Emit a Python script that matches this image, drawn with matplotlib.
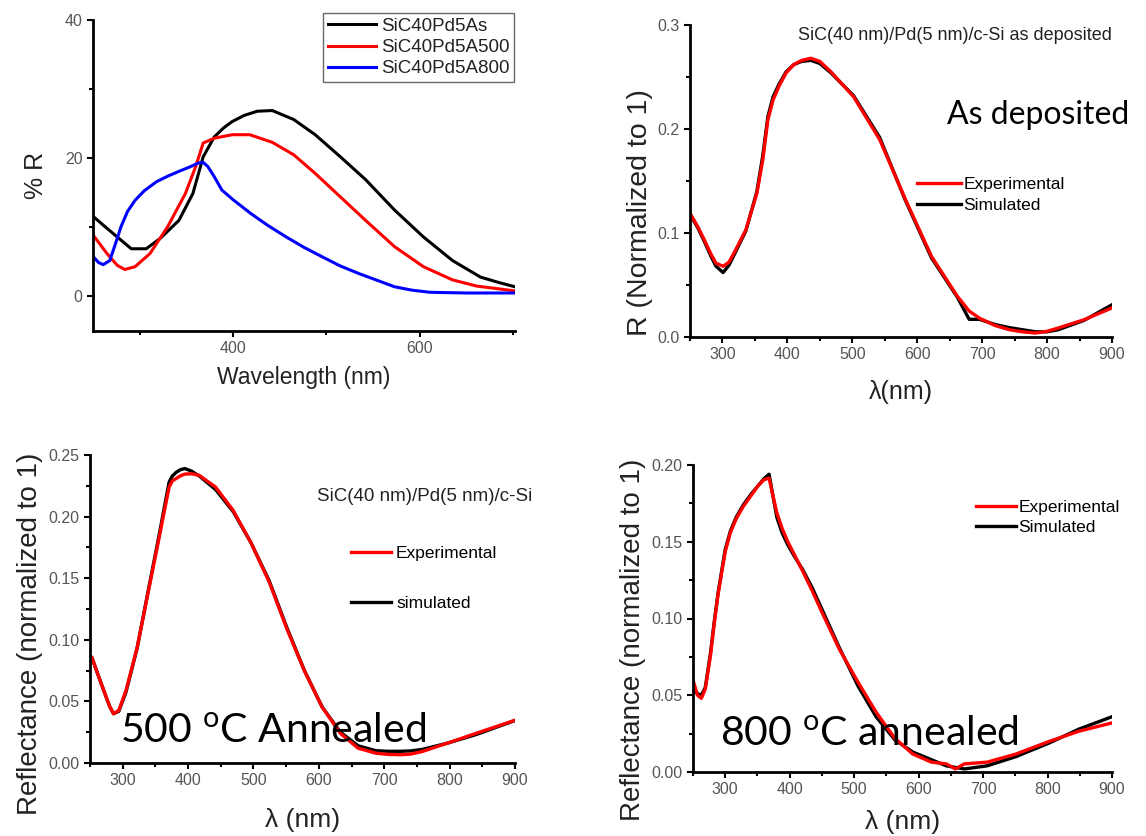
import numpy as np
import matplotlib
matplotlib.use("Agg")
import matplotlib.pyplot as plt
from matplotlib.ticker import MultipleLocator, FormatStrFormatter

plt.rcParams['font.family'] = ['Liberation Sans', 'DejaVu Sans']
plt.rcParams['mathtext.fontset'] = 'custom'
plt.rcParams['mathtext.rm'] = 'Lato'

# ---- panel 1: % R of the three samples ----
as_wl = [250, 262, 276, 291, 307, 322, 342, 357, 368, 380, 390, 399, 412, 426, 442,
         465, 488, 515, 542, 573, 604, 635, 665, 685, 702]
as_r = [11.6, 10.2, 8.6, 6.9, 6.9, 8.4, 11.0, 14.9, 20.2, 23.1, 24.4, 25.3, 26.2,
        26.8, 26.9, 25.6, 23.4, 20.2, 16.9, 12.5, 8.6, 5.2, 2.8, 2.0, 1.4]
a500_wl = [250, 265, 276, 284, 295, 311, 330, 349, 360, 368, 380, 399, 418, 442,
           465, 488, 515, 542, 573, 604, 635, 661, 702]
a500_r = [8.9, 6.2, 4.5, 3.9, 4.3, 6.2, 10.1, 14.9, 18.8, 22.2, 22.9, 23.4, 23.4,
          22.3, 20.5, 17.8, 14.4, 11.0, 7.2, 4.3, 2.4, 1.5, 0.8]
a800_wl = [250, 256, 261, 268, 274, 280, 287, 295, 305, 318, 330, 342, 353, 363,
           368, 373, 380, 388, 400, 419, 437, 457, 476, 496, 515, 535, 555, 573, 592,
           611, 650, 702]
a800_r = [5.8, 4.9, 4.6, 5.2, 7.6, 10.1, 12.3, 13.9, 15.3, 16.6, 17.4, 18.1, 18.7,
          19.3, 19.4, 18.8, 17.3, 15.4, 14.0, 12.0, 10.3, 8.6, 7.1, 5.7, 4.4, 3.3, 2.3,
          1.4, 0.9, 0.6, 0.5, 0.5]

# ---- panel 2: as deposited ----
p2_wl = [250, 262, 272, 282, 290, 301, 310, 318, 336, 353, 362, 370, 378, 387, 398,
         410, 422, 436, 450, 467, 502, 542, 582, 622, 662, 680, 696, 720, 742, 762,
         782, 800, 817, 857, 900]
p2_exp = [0.119, 0.106, 0.0935, 0.080, 0.071, 0.068, 0.072, 0.081, 0.103, 0.138,
          0.170, 0.209, 0.228, 0.241, 0.254, 0.262, 0.266, 0.268, 0.265, 0.255, 0.231,
          0.190, 0.132, 0.0775, 0.039, 0.025, 0.018, 0.011, 0.007, 0.005, 0.0038,
          0.0055, 0.0086, 0.0166, 0.028]
p2_sim = [0.118, 0.105, 0.092, 0.078, 0.068, 0.062, 0.069, 0.079, 0.102, 0.140,
          0.174, 0.212, 0.231, 0.243, 0.255, 0.262, 0.265, 0.266, 0.263, 0.254, 0.232,
          0.192, 0.131, 0.076, 0.038, 0.017, 0.017, 0.012, 0.009, 0.007, 0.005,
          0.005, 0.007, 0.016, 0.031]

# ---- panel 3: 500 C annealed ----
p3_wl = [253, 262, 273, 280, 286, 294, 305, 322, 338, 355, 371, 376, 382, 388, 395,
         405, 417, 442, 469, 496, 524, 551, 578, 605, 633, 660, 687, 705, 725, 740,
         758, 796, 840, 900]
p3_exp = [0.0854, 0.072, 0.056, 0.046, 0.040, 0.0427, 0.0587, 0.0934, 0.136, 0.181,
          0.224, 0.229, 0.231, 0.233, 0.2345, 0.2348, 0.2335, 0.224, 0.205, 0.179,
          0.147, 0.109, 0.0747, 0.0454, 0.024, 0.012, 0.008, 0.007, 0.0067, 0.0072,
          0.0093, 0.016, 0.024, 0.0347]
p3_sim = [0.0854, 0.072, 0.056, 0.046, 0.040, 0.0420, 0.0575, 0.0930, 0.137, 0.183,
          0.228, 0.233, 0.236, 0.238, 0.239, 0.237, 0.233, 0.222, 0.204, 0.179,
          0.148, 0.110, 0.0750, 0.0455, 0.025, 0.014, 0.010, 0.0095, 0.0095, 0.0098,
          0.011, 0.016, 0.023, 0.0345]

# ---- panel 4: 800 C annealed ----
p4_wl = [251, 257, 263, 269, 277, 283, 289, 300, 308, 317, 328, 340, 350, 360, 368,
         374, 380, 388, 397, 408, 420, 435, 449, 477, 506, 534, 563, 591, 620, 643,
         657, 671, 706, 751, 803, 849, 900]
p4_exp = [0.0585, 0.050, 0.048, 0.054, 0.0755, 0.097, 0.116, 0.1436, 0.156, 0.165,
          0.173, 0.180, 0.186, 0.1904, 0.1915, 0.180, 0.169, 0.159, 0.150, 0.141,
          0.131, 0.118, 0.105, 0.080, 0.0585, 0.039, 0.022, 0.0117, 0.0064, 0.0053,
          0.002, 0.0053, 0.0064, 0.0117, 0.020, 0.0266, 0.032]
p4_sim = [0.053, 0.051, 0.050, 0.055, 0.077, 0.098, 0.117, 0.145, 0.157, 0.166,
          0.174, 0.181, 0.186, 0.191, 0.194, 0.180, 0.166, 0.156, 0.148, 0.140,
          0.132, 0.120, 0.107, 0.081, 0.056, 0.036, 0.021, 0.013, 0.008, 0.004,
          0.003, 0.002, 0.004, 0.010, 0.019, 0.028, 0.036]

fig = plt.figure(figsize=(11.46, 8.36), dpi=100)
W, H = 1146, 836


def make_ax(l, t, r, b):
    return fig.add_axes([l / W, 1 - b / H, (r - l) / W, (b - t) / H])


def style(ax):
    for s in ['top', 'right']:
        ax.spines[s].set_visible(False)
    for s in ['left', 'bottom']:
        ax.spines[s].set_linewidth(2.0)
    ax.tick_params(which='both', direction='out', width=1.5, colors='black',
                   labelcolor='#555555', labelsize=11.5)
    ax.tick_params(which='major', length=4)
    ax.tick_params(which='minor', length=3)


big = dict(family=['Lato', 'DejaVu Sans'], color='black')
lab = dict(color='#222222')

# panel 1
ax1 = make_ax(93, 20, 515, 331)
ax1.plot(as_wl, as_r, color='black', lw=2.2, label='SiC40Pd5As')
ax1.plot(a500_wl, a500_r, color='red', lw=2.2, label='SiC40Pd5A500')
ax1.plot(a800_wl, a800_r, color='blue', lw=2.2, label='SiC40Pd5A800')
ax1.set_xlim(250, 702)
ax1.set_ylim(-5, 40)
ax1.xaxis.set_major_locator(MultipleLocator(200))
ax1.xaxis.set_minor_locator(MultipleLocator(100))
ax1.yaxis.set_major_locator(MultipleLocator(20))
ax1.yaxis.set_minor_locator(MultipleLocator(10))
style(ax1)
ax1.set_xlabel('Wavelength (nm)', fontsize=16.5, labelpad=7, **lab)
ax1.set_ylabel('% R', fontsize=18, labelpad=12, **lab)
leg = ax1.legend(loc='upper right', bbox_to_anchor=(0.998, 1.022), fontsize=13.5,
                 frameon=True, fancybox=False, edgecolor='#444444',
                 handlelength=2.6, handletextpad=0.25, borderpad=0.25,
                 labelspacing=0.22, borderaxespad=0.0)
leg.get_frame().set_linewidth(1.0)
for t in leg.get_texts():
    t.set_color('#222222')

# panel 2
ax2 = make_ax(690, 25, 1112, 337)
ax2.plot(p2_wl, p2_sim, color='black', lw=2.4, label='Simulated')
ax2.plot(p2_wl, p2_exp, color='red', lw=2.4, label='Experimental')
ax2.set_xlim(250, 900)
ax2.set_ylim(0, 0.3)
ax2.xaxis.set_major_locator(MultipleLocator(100))
ax2.xaxis.set_minor_locator(MultipleLocator(50))
ax2.yaxis.set_major_locator(MultipleLocator(0.1))
ax2.yaxis.set_minor_locator(MultipleLocator(0.05))
style(ax2)
ax2.set_xlabel('λ(nm)', fontsize=18, labelpad=13, **lab)
ax2.set_ylabel('R (Normalized to 1)', fontsize=20.5, labelpad=3, **lab)
ax2.yaxis.label.set_y(0.40)
ax2.text(0.257, 0.967, 'SiC(40 nm)/Pd(5 nm)/c-Si as deposited', transform=ax2.transAxes,
         fontsize=13, color='#222222', va='center', ha='left')
ax2.text(0.608, 0.71, 'As deposited', transform=ax2.transAxes, fontsize=23,
         va='center', ha='left', **big)
h, l = ax2.get_legend_handles_labels()
ax2.legend(h[::-1], l[::-1], loc='center left', bbox_to_anchor=(0.539, 0.455),
           frameon=False, fontsize=12.5, handlelength=2.5, handletextpad=0.15,
           labelspacing=0.3, borderaxespad=0.0, borderpad=0.0)

# panel 3
ax3 = make_ax(90, 455, 515, 763)
ax3.plot(p3_wl, p3_sim, color='black', lw=2.4, label='simulated')
ax3.plot(p3_wl, p3_exp, color='red', lw=2.4, label='Experimental')
ax3.set_xlim(250, 900)
ax3.set_ylim(0, 0.25)
ax3.xaxis.set_major_locator(MultipleLocator(100))
ax3.xaxis.set_minor_locator(MultipleLocator(50))
ax3.yaxis.set_major_locator(MultipleLocator(0.05))
ax3.yaxis.set_minor_locator(MultipleLocator(0.025))
ax3.yaxis.set_major_formatter(FormatStrFormatter('%.2f'))
style(ax3)
ax3.set_xlabel('λ (nm)', fontsize=19, labelpad=14, **lab)
ax3.set_ylabel('Reflectance (normalized to 1)', fontsize=20, labelpad=4, **lab)
ax3.yaxis.label.set_y(0.42)
ax3.text(0.535, 0.865, 'SiC(40 nm)/Pd(5 nm)/c-Si', transform=ax3.transAxes,
         fontsize=13.5, color='#222222', va='center', ha='left')
ax3.text(0.07, 0.105, '500 $\\mathregular{^{o}}$C Annealed', transform=ax3.transAxes,
         fontsize=29.5, va='center', ha='left', **big)
h, l = ax3.get_legend_handles_labels()
ax3.legend(h[::-1], l[::-1], loc='center left', bbox_to_anchor=(0.614, 0.6),
           frameon=False, fontsize=12.5, handlelength=2.3, handletextpad=0.3,
           labelspacing=2.0, borderaxespad=0.0, borderpad=0.0)

# panel 4
ax4 = make_ax(693, 465, 1112, 772)
ax4.plot(p4_wl, p4_sim, color='black', lw=2.4, label='Simulated')
ax4.plot(p4_wl, p4_exp, color='red', lw=2.4, label='Experimental')
ax4.set_xlim(250, 900)
ax4.set_ylim(0, 0.2)
ax4.xaxis.set_major_locator(MultipleLocator(100))
ax4.xaxis.set_minor_locator(MultipleLocator(50))
ax4.yaxis.set_major_locator(MultipleLocator(0.05))
ax4.yaxis.set_minor_locator(MultipleLocator(0.025))
ax4.yaxis.set_major_formatter(FormatStrFormatter('%.2f'))
style(ax4)
ax4.set_xlabel('λ (nm)', fontsize=19, labelpad=9, **lab)
ax4.set_ylabel('Reflectance (normalized to 1)', fontsize=20, labelpad=4, **lab)
ax4.yaxis.label.set_y(0.43)
ax4.text(0.065, 0.125, '800 $\\mathregular{^{o}}$C annealed', transform=ax4.transAxes,
         fontsize=29.5, va='center', ha='left', **big)
h, l = ax4.get_legend_handles_labels()
ax4.legend(h[::-1], l[::-1], loc='center left', bbox_to_anchor=(0.675, 0.83),
           frameon=False, fontsize=12.5, handlelength=2.3, handletextpad=0.15,
           labelspacing=0.3, borderaxespad=0.0, borderpad=0.0)

fig.savefig('out.png', dpi=100)
